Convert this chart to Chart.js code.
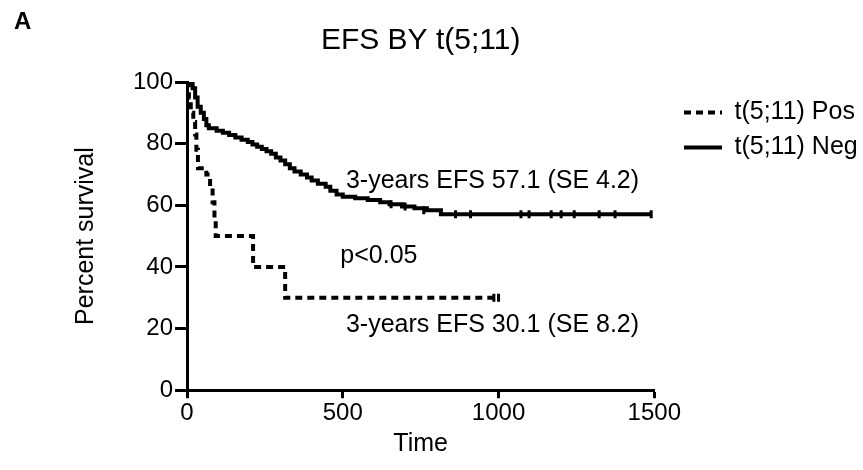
<!DOCTYPE html>
<html>
<head>
<meta charset="utf-8">
<script src="https://cdn.jsdelivr.net/npm/chart.js@4.4.0/dist/chart.umd.min.js"></script>
<style>
  html, body { margin: 0; padding: 0; background: #fff; }
  #wrap { width: 863px; height: 470px; }
</style>
</head>
<body>
<div id="wrap"><canvas id="myChart" width="863" height="470"></canvas></div>
<script>
// Kaplan-Meier steps (time in days, survival in %)
const posTime = [0, 6, 12, 20, 26, 30, 35, 62, 74, 82, 88, 92, 212, 315, 1000]
const posSurv = [100, 95, 90, 87, 83, 78, 72, 70, 66, 61, 55, 50, 40, 30, 30]
const posCensorTime = [985, 1000]
const posCensorSurv = [30, 30]

const negTime = [0, 18, 26, 34, 44, 54, 62, 70, 95, 115, 135, 155, 175, 195, 210, 225, 240, 255,
  270, 285, 300, 315, 330, 345, 365, 385, 400, 420, 445, 460, 480, 500, 540, 580, 620, 650,
  690, 730, 770, 815, 1490]
const negSurv = [100, 98, 95, 92, 90, 88, 86, 85, 84.2, 83.5, 82.8, 82, 81.3, 80.5, 79.7, 79, 78.3, 77.5,
  76.7, 75.5, 74.5, 73.3, 72, 71, 70, 69, 68, 67, 66, 64.7, 63.5, 62.8, 62.3, 61.7, 61, 60.3,
  59.6, 59, 58.4, 57.1, 57.1]
const negCensorTime = [655, 700, 760, 862, 910, 1072, 1098, 1169, 1201, 1243, 1323, 1374, 1490]
const negCensorSurv = [60.3, 59.6, 58.4, 57.1, 57.1, 57.1, 57.1, 57.1, 57.1, 57.1, 57.1, 57.1, 57.1]

const xTicks = [0, 500, 1000, 1500]
const yTicks = [0, 20, 40, 60, 80, 100]

const FONT = '"Liberation Sans", Arial, sans-serif'
Chart.defaults.font.family = FONT
Chart.defaults.font.size = 24
Chart.defaults.color = '#000'

function pts(xs, ys){
    return xs.map((x, i) => ({x, y: ys[i]}))
}

// text notes, placed in data coordinates
const notes = [
    {text: '3-years EFS 57.1 (SE 4.2)', t: 510, s: 68},
    {text: 'p<0.05', t: 492, s: 43.5},
    {text: '3-years EFS 30.1 (SE 8.2)', t: 510, s: 21}
]

const extras = {
    id: 'extras',
    afterLayout(chart){
        // put the legend where the original has it
        const lg = chart.legend
        const w = lg.width, h = lg.height
        lg.left = 674
        lg.right = lg.left + w
        lg.top = 90
        lg.bottom = lg.top + h
    },
    afterDraw(chart){
        const {ctx, scales: {x, y}} = chart
        ctx.save()
        ctx.fillStyle = '#000'
        ctx.textBaseline = 'middle'
        ctx.font = '25px ' + FONT
        notes.forEach(n => ctx.fillText(n.text, x.getPixelForValue(n.t), y.getPixelForValue(n.s)))
        ctx.font = 'bold 24px ' + FONT
        ctx.fillText('A', 14, 22)
        ctx.restore()
    }
}

const canvas = document.getElementById('myChart')
const myChart = new Chart(canvas, {
    type: 'line',
    data: {
        datasets: [{
            label: 't(5;11) Pos',
            data: pts(posTime, posSurv),
            borderColor: '#000',
            borderWidth: 4,
            borderDash: [7, 5],
            stepped: true,
            pointRadius: 0,
            fill: false
        }, {
            label: 't(5;11) Neg',
            data: pts(negTime, negSurv),
            borderColor: '#000',
            borderWidth: 4,
            stepped: true,
            pointRadius: 0,
            fill: false
        }, {
            label: 'pos censored',
            data: pts(posCensorTime, posCensorSurv),
            showLine: false,
            pointStyle: 'line',
            rotation: 90,
            pointRadius: 4,
            borderColor: '#000',
            borderWidth: 3
        }, {
            label: 'neg censored',
            data: pts(negCensorTime, negCensorSurv),
            showLine: false,
            pointStyle: 'line',
            rotation: 90,
            pointRadius: 4,
            borderColor: '#000',
            borderWidth: 3
        }]
    },
    options: {
        responsive: false,
        animation: false,
        layout: {
            padding: {left: 67, right: 15, top: 0, bottom: 11}
        },
        scales: {
            x: {
                type: 'linear',
                min: 0,
                max: 1500,
                afterBuildTicks: axis => { axis.ticks = xTicks.map(v => ({value: v})) },
                grid: {display: true, drawOnChartArea: false, tickLength: 8, tickWidth: 3, color: '#000'},
                border: {display: true, width: 3, color: '#000'},
                ticks: {padding: 1, font: {size: 24}, callback: v => String(v)},
                title: {display: true, text: 'Time', font: {size: 25}, padding: {top: 0, bottom: 0}}
            },
            y: {
                min: 0,
                max: 100,
                afterBuildTicks: axis => { axis.ticks = yTicks.map(v => ({value: v})) },
                grid: {display: true, drawOnChartArea: false, tickLength: 12, tickWidth: 3, color: '#000'},
                border: {display: true, width: 3, color: '#000'},
                ticks: {padding: 2, font: {size: 24}, callback: v => String(v)},
                title: {display: true, text: 'Percent survival', font: {size: 25}, padding: {top: 4, bottom: 30}}
            }
        },
        plugins: {
            title: {
                display: true,
                text: 'EFS BY t(5;11)',
                fullSize: false,
                font: {size: 30, weight: 'normal'},
                padding: {top: 23, bottom: 23}
            },
            legend: {
                position: 'right',
                align: 'start',
                labels: {
                    usePointStyle: true,
                    pointStyle: 'line',
                    pointStyleWidth: 38,
                    padding: 10,
                    font: {size: 25},
                    filter: item => item.datasetIndex < 2,
                    generateLabels: chart => {
                        const items = Chart.defaults.plugins.legend.labels.generateLabels(chart)
                        items.forEach(it => {
                            const ds = chart.data.datasets[it.datasetIndex]
                            it.lineDash = ds.borderDash || []
                            it.lineWidth = 4
                            it.strokeStyle = '#000'
                        })
                        return items
                    }
                }
            },
            tooltip: {enabled: false}
        }
    },
    plugins: [extras]
})
</script>
</body>
</html>
